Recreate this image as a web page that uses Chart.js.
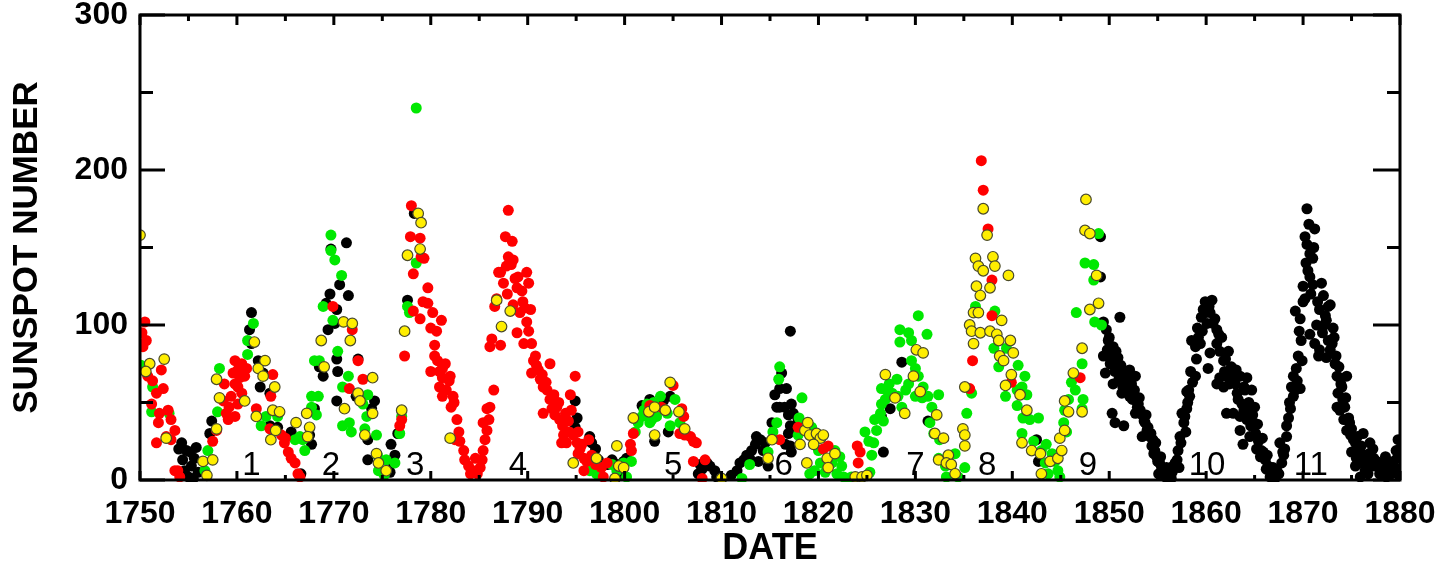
<!DOCTYPE html>
<html>
<head>
<meta charset="utf-8">
<script src="https://cdn.jsdelivr.net/npm/chart.js@4/dist/chart.umd.min.js"></script>
<style>
html,body{margin:0;padding:0;background:#fff;}
#wrap{width:1445px;height:567px;position:relative;}
</style>
</head>
<body>
<div id="wrap"><canvas id="c" width="1445" height="567"></canvas></div>
<script>
// ---- Axis ticks ----
const xTickLabels = [1750,1760,1770,1780,1790,1800,1810,1820,1830,1840,1850,1860,1870,1880];
const yTickLabels = [0,100,200,300];

// ---- Cycle labels ----
const cycleNames = ['1','2','3','4','5','6','7','8','9','10','11'];
const cycleYears = [1761.5,1769.7,1778.4,1789.0,1805.0,1816.4,1830.0,1837.4,1847.8,1860.1,1870.8];

// ---- Series (year, sunspot number) ----
const blackPts = [
[1754.3,24],[1754.8,19],[1754.4,13],[1755.3,9],[1755.0,2],[1755.6,14],[1755.8,21],[1754.6,6],[1755.5,1],[1754.0,20],[1755.2,18],[1756.0,5],
[1757.2,30],[1757.4,38],[1761.5,108],[1761.3,97],[1761.5,88],[1762.2,77],[1762.7,69],[1762.4,60],[1763.4,56],[1763.4,35],[1764.2,34],[1765.6,31],[1766.6,4],
[1767.5,29],[1767.7,23],[1768.0,46],[1768.5,73],[1768.9,67],[1769.4,97],[1769.6,120],[1769.2,114],[1769.7,149],[1770.6,126],[1770.3,110],[1771.3,153],[1771.5,119],[1770.3,78],[1770.4,70],[1770.3,51],[1770.1,101],[1772.5,78],[1772.3,54],[1774.2,51],[1773.9,46],[1773.5,26],
[1773.5,13],[1775.9,23],[1776.3,16],[1776.6,30],[1776.1,11],[1775.8,5],
[1777.6,116],[1778.3,172],
[1794.9,51],[1795.1,40],[1794.9,34],[1796.4,28],[1796.6,24],[1796.8,15],[1797.3,13],[1798.2,10],[1798.7,13],[1799.2,10],[1799.9,12],[1800.2,14],[1799.5,4],[1797.0,20],
[1801.8,48],[1802.6,52],[1803.1,25],[1804.5,31],[1804.7,54],[1804.0,51],[1807.8,10],[1808.5,11],[1808.8,9],[1809.3,6],[1807.6,4],[1809.5,2],[1808.0,7],
[1811.6,6],[1811.9,11],[1812.3,13],[1812.6,16],[1812.9,14],[1813.1,19],[1813.5,23],[1813.6,28],[1814.0,26],[1814.3,19],[1814.5,24],[1814.8,9],[1815.2,37],[1815.7,47],[1815.5,55],[1816.0,59],[1816.2,69],[1816.7,59],[1816.0,47],[1816.5,47],[1817.2,49],[1816.9,42],[1817.4,43],[1817.1,35],[1816.9,30],[1816.6,23],[1817.1,22],[1817.6,33],[1817.1,96],[1817.9,39],[1817.2,18],[1811.0,3],[1813.8,12],
[1826.5,41],[1827.4,46],[1826.7,18],[1828.6,76],[1831.3,38],
[1842.5,26],[1842.7,12],
[1849.1,157],[1849.1,131],
[1849.4,102],[1849.7,97],[1851.1,105],[1849.9,90],[1850.4,86],[1849.4,80],[1849.6,69],[1850.1,75],[1850.8,75],[1851.1,71],[1850.4,62],[1851.5,66],[1852.1,71],[1851.8,62],[1852.7,67],[1851.3,56],[1852.1,54],[1853.0,49],[1852.7,43],[1853.4,42],[1853.7,37],[1853.9,32],[1853.4,28],[1854.2,28],[1854.4,22],[1854.7,19],[1854.9,15],[1855.2,11],[1855.6,6],[1855.8,2],[1856.3,3],[1856.6,9],[1857.0,13],[1857.1,19],[1857.3,28],[1857.7,37],[1857.5,43],[1858.0,46],[1858.3,54],[1858.2,58],[1858.9,67],[1850.3,43],[1850.6,37],[1851.5,35],[1856.1,1],[1855.1,4],
[1849.8,84],[1850.2,80],[1850.6,70],[1851.0,65],[1851.4,60],[1851.9,57],[1852.4,52],[1852.9,47],[1853.2,45],[1853.6,38],[1854.0,34],[1854.5,26],[1854.8,24],[1855.3,15],[1855.4,8],[1856.0,4],[1856.5,5],[1856.8,11],[1852.3,62],[1851.7,70],[1850.9,79],
[1857.4,24],[1857.9,31],[1858.1,50],[1858.6,63],[1859.0,78],[1859.6,96],[1857.8,41],[1858.0,57],
[1858.5,90],[1858.9,86],[1859.2,92],[1859.5,105],[1859.9,115],[1860.6,116],[1859.9,108],[1860.4,108],[1860.1,101],[1860.7,101],[1861.1,97],[1859.4,88],[1860.4,82],[1860.2,72],[1861.1,88],[1861.4,83],[1861.8,77],[1862.3,83],[1862.6,73],[1862.1,67],[1861.4,66],[1861.1,62],[1861.8,60],[1862.8,66],[1863.5,67],[1864.2,66],[1863.2,56],[1864.0,58],[1863.7,49],[1864.7,58],[1865.0,47],[1862.1,43],[1862.8,43],[1863.5,41],[1864.2,39],[1864.9,37],[1863.5,32],[1864.5,28],[1863.8,23],[1865.2,20],[1865.7,19],[1865.6,15],[1866.1,13],[1866.4,9],[1866.8,4],[1867.1,1],[1867.5,4],[1867.8,11],[1868.0,16],[1867.6,24],[1868.3,28],[1868.3,35],[1868.7,46],[1869.0,54],[1868.8,60],[1869.2,58],[1869.0,67],[1869.7,59],[1869.5,80],[1869.9,77],
[1861.6,92],[1862.0,78],[1862.5,70],[1863.0,62],[1863.3,52],[1863.9,45],[1864.4,50],[1864.6,35],[1865.1,30],[1865.4,25],[1865.9,18],[1866.2,7],[1866.6,2],[1867.3,6],
[1869.2,109],[1869.7,104],[1870.0,115],[1870.4,175],[1870.2,157],[1870.4,152],[1871.2,162],[1870.7,146],[1871.0,143],[1870.5,135],[1870.7,131],[1871.0,126],[1872.1,119],[1871.7,110],[1872.3,106],[1872.8,113],[1872.4,103],[1873.1,98],[1872.6,90],[1870.7,94],[1871.2,88],[1871.7,84],[1872.8,84],[1871.6,80],[1872.4,79],[1873.3,75],[1873.5,67],[1873.8,66],[1874.5,67],[1874.0,60],[1873.6,56],[1873.5,47],[1873.8,45],[1874.3,47],[1874.2,39],[1874.5,32],[1875.0,33],[1874.9,29],[1876.2,30],[1875.4,24],[1875.0,18],[1875.5,14],[1876.1,11],[1876.6,13],[1876.9,24],[1877.2,20],[1876.7,4],[1877.4,9],[1877.9,4],[1878.3,11],[1878.6,2],[1879.1,4],[1879.5,8],[1879.6,19],[1875.4,9],[1875.9,2],
[1868.1,20],[1868.5,40],[1869.3,72],[1869.8,90],[1870.0,125],[1870.3,140],[1870.8,120],[1871.4,100],[1872.0,95],[1871.9,127],[1872.6,112],[1873.0,88],[1873.4,80],[1873.9,62],[1874.4,53],[1874.7,40],[1875.2,26],[1875.7,20],[1876.3,16],[1876.4,6],[1877.0,9],[1877.6,12],[1878.0,6],[1878.8,8],[1879.3,12],[1879.8,26],[1878.2,3],[1879.9,3],
[1850.0,92],[1850.7,83],[1851.2,74],[1852.0,66],[1852.6,58],[1853.1,53],[1853.8,42],[1854.3,30],[1854.6,17],[1855.0,12],[1855.9,8],[1856.4,1],[1857.2,8],[1858.4,70],[1859.1,98],[1859.7,110],[1860.3,112],[1860.9,104],[1861.3,94],[1861.9,70],[1862.4,62],[1863.1,71],[1863.9,60],[1864.3,44],[1864.8,42],[1865.3,36],[1865.8,27],[1866.3,16],[1866.9,8],[1867.9,18],[1868.6,50],[1869.4,64],[1869.6,96],[1870.2,117],[1870.6,165],[1871.1,150],[1871.5,115],[1872.2,100],[1873.2,92],[1873.7,73],[1874.1,52],[1874.8,37],[1875.6,28],[1876.0,22],[1876.8,17],[1877.3,14],[1877.8,9],[1878.5,15],[1879.0,10],[1879.7,14],[1880.0,20]
];

const redPts = [
[1750.5,102],[1750.65,90],[1750.3,86],[1750.8,67],[1751.3,64],[1752.2,71],[1751.7,56],[1752.4,59],[1751.2,49],[1752.0,43],[1752.9,45],[1753.2,39],[1751.9,37],[1751.7,24],[1752.7,28],[1753.6,32],[1753.2,26],[1753.9,6],[1754.1,2],[1753.6,6],[1750.2,95],
[1757.5,25],[1757.9,32],[1758.6,51],[1758.7,62],[1758.9,43],[1759.4,54],[1759.2,47],[1759.8,62],[1760.1,49],[1759.8,77],[1760.1,71],[1760.5,75],[1760.1,60],[1760.8,67],[1759.6,69],[1760.5,56],[1759.1,39],[1759.8,41],[1760.3,66],[1761.0,72],[1762.0,46],[1763.7,68],[1763.5,54],[1763.4,33],[1764.6,29],[1764.9,24],[1765.3,18],[1765.6,14],[1766.0,11],[1766.3,4],[1766.5,2],[1765.0,27],
[1769.9,112],[1771.9,97],[1772.5,77],[1773.0,65],[1771.6,59],
[1777.0,39],[1776.8,35],[1777.3,80],[1778.2,109],[1778.2,133],[1777.9,157],[1778.9,156],[1778.0,177],[1779.0,144],[1779.3,143],[1779.7,124],[1779.2,115],[1779.7,114],[1780.2,108],[1778.9,104],[1780.0,98],[1780.6,96],[1780.4,87],[1781.1,103],[1780.7,77],[1781.2,72],[1780.9,70],[1781.2,66],[1780.0,70],[1780.9,60],[1781.2,54],[1781.9,64],[1782.1,47],[1782.0,67],[1782.3,54],[1782.7,39],[1782.9,31],[1783.0,25],[1782.5,26],[1783.4,19],[1783.5,13],[1783.9,9],[1784.1,4],[1784.4,6],[1784.8,4],[1785.1,8],[1784.6,14],[1785.3,13],
[1781.6,58],[1782.4,50],[1781.5,75],[1780.4,80],
[1785.4,19],[1785.6,26],[1785.8,32],[1785.4,37],[1786.0,39],[1785.8,46],[1786.1,47],[1786.5,58],[1786.1,86],[1786.3,91],[1787.2,87],[1786.6,112],[1786.8,117],[1787.0,134],[1787.5,127],[1788.0,144],[1787.7,157],[1788.4,154],[1788.0,174],[1787.2,134],[1788.5,142],[1787.8,138],[1789.0,131],[1788.9,124],[1789.4,122],[1789.9,134],[1790.1,127],[1788.5,113],[1789.7,111],[1788.9,95],[1789.9,102],[1790.1,96],[1790.4,88],[1789.6,88],[1790.6,77],[1790.4,69],[1791.1,71],[1791.3,65],[1792.3,75],[1791.6,60],[1792.0,58],[1792.3,52],[1791.6,43],[1792.5,46],[1793.0,47],[1793.3,39],[1793.9,43],[1794.2,38],[1794.4,55],[1794.9,67],[1793.7,29],[1794.0,24],[1793.5,24],[1794.7,29],[1795.2,31],[1795.6,23],[1795.2,17],[1795.8,14],[1796.1,12],[1795.8,6],[1795.1,24],[1796.3,26],[1797.8,2],[1798.2,11],[1797.6,8],[1788.3,139],[1790.8,80],[1789.2,108],
[1790.9,74],[1791.5,68],[1791.9,63],[1792.7,55],[1793.2,50],[1792.8,42],[1793.6,35],[1794.3,31],[1794.5,45],[1795.4,20],[1796.6,16],[1797.0,10],[1787.9,120],[1788.7,130],[1789.5,115],[1790.3,110],
[1800.6,23],[1800.7,19],[1800.9,30],[1802.6,48],[1803.8,47],[1805.0,61],[1805.9,46],[1806.1,41],[1805.7,30],[1806.2,29],[1806.8,28],[1807.1,25],[1807.4,24],[1807.1,12],[1808.3,13],[1808.0,1],
[1816.0,26],[1817.9,34],[1820.5,20],[1821.0,22],
[1824.0,22],[1824.3,18],[1824.1,11],
[1835.6,59],[1835.9,77],[1836.8,206],[1837.0,187],[1837.5,162],[1837.9,129],[1837.9,106],[1839.9,63],
[1847.0,66]
];

const greenPts = [
[1750.1,74],[1751.2,44],[1751.3,60],[1753.0,43],
[1757.0,19],[1756.7,6],[1758.2,72],[1758.0,44],[1761.7,101],[1761.1,90],[1761.1,81],[1763.0,41],[1762.5,35],[1764.2,41],
[1766.0,26],[1766.8,26],[1767.0,19],[1766.5,28],[1767.7,54],[1768.0,77],[1768.5,77],[1768.4,54],[1767.7,47],[1768.2,42],[1769.7,158],[1770.1,142],[1769.7,148],[1768.9,112],[1769.9,103],[1770.8,132],[1770.4,83],[1771.5,67],[1770.9,60],[1770.9,35],[1771.6,37],[1771.8,31],[1773.0,49],[1773.5,55],[1773.2,33],[1774.4,29],[1773.4,41],
[1774.6,6],[1775.2,3],[1775.4,13],[1776.3,11],[1774.5,16],
[1776.8,30],[1777.0,41],[1777.6,112],[1777.8,108],[1778.5,140],[1778.5,240],
[1796.4,6],[1797.1,4],[1798.7,10],[1799.2,6],[1799.9,11],[1800.7,12],[1800.2,2],
[1801.1,31],[1801.4,37],[1801.8,41],[1802.3,49],[1802.8,39],[1802.6,37],[1803.7,54],[1804.0,46],[1804.7,35],[1805.2,52],[1804.4,43],[1803.3,41],[1805.7,37],[1802.0,45],[1803.0,50],
[1812.9,10],[1812.1,1],[1816.0,73],[1815.9,65],[1815.7,37],[1815.3,31],[1814.8,18],[1818.3,53],[1817.9,29],[1819.3,34],[1819.6,25],[1820.0,19],[1820.2,11],[1819.1,4],[1820.7,5],[1821.4,11],[1821.7,19],[1822.2,15],[1822.4,9],[1821.9,4],[1822.6,2],[1822.9,1],[1823.4,2],[1819.6,6],[1818.0,40],
[1824.8,31],[1825.2,25],[1825.5,16],[1825.3,5],[1825.7,24],[1826.0,32],[1825.8,39],[1826.4,43],[1826.5,49],[1826.7,38],[1826.9,52],[1826.5,59],[1827.0,58],[1827.6,56],[1828.1,65],[1828.2,54],[1828.6,47],[1828.4,97],[1828.4,89],[1829.3,95],[1829.6,90],[1830.3,106],[1831.2,94],[1829.6,77],[1830.0,72],[1830.3,67],[1829.3,62],[1830.0,54],[1830.8,60],[1830.7,53],[1831.3,54],[1831.7,47],[1832.4,55],[1831.5,37],[1831.9,30],[1832.5,26],[1832.4,14],[1833.1,9],[1833.2,2],[1834.1,17],[1834.4,2],[1835.1,8],[1835.3,43],[1835.8,56],[1827.3,62],[1829.0,58],
[1838.2,109],[1836.2,112],[1838.1,85],[1838.6,73],[1839.4,85],[1840.6,74],[1841.3,67],[1840.5,58],[1841.0,60],[1841.5,55],[1839.3,54],[1840.5,48],[1841.1,40],[1841.8,39],[1842.7,40],[1841.0,30],[1842.2,25],[1843.0,19],[1843.5,23],[1844.1,17],[1843.4,11],[1843.7,4],[1844.4,12],[1844.7,6],[1844.9,2],
[1845.3,37],[1845.6,31],[1845.4,45],[1845.8,52],[1846.1,63],[1846.5,58],[1846.6,108],[1847.5,140],[1847.2,46],[1848.9,159],[1848.4,139],[1848.4,129],[1848.5,102],[1847.2,75],[1847.3,52],[1849.2,100]
];

const yellowPts = [
[1750.0,158],[1751.0,75],[1752.5,78],[1752.7,27],[1750.6,70],
[1756.5,12],[1757.5,13],[1756.9,3],[1757.9,33],[1757.9,65],[1758.2,53],[1760.8,51],[1761.8,89],[1762.2,72],[1762.9,77],[1762.7,67],[1762.0,41],[1763.9,60],[1763.7,45],[1764.4,44],[1763.5,26],[1764.0,32],[1766.1,37],
[1767.2,43],[1767.5,34],[1767.3,28],[1768.7,90],[1769.0,73],[1771.0,102],[1771.9,101],[1771.7,90],[1772.5,56],[1772.7,51],[1774.0,66],[1771.1,46],[1774.0,43],[1773.2,29],[1774.4,17],[1774.6,11],[1775.4,6],
[1777.0,45],[1777.3,96],[1777.6,145],[1778.9,149],[1778.7,172],[1779.0,166],[1782.0,27],
[1786.8,116],[1788.2,109],[1787.3,99],[1794.7,11],[1797.1,14],[1799.2,22],[1799.4,9],[1799.9,8],[1799.0,1],
[1800.9,40],[1802.5,44],[1803.1,47],[1803.1,29],[1804.7,63],[1804.2,45],[1805.6,44],[1806.2,33],[1810.0,1],
[1815.2,26],[1814.8,14],[1818.6,32],[1819.1,29],[1818.9,37],[1819.8,30],[1820.2,27],[1820.5,29],[1819.5,23],[1818.1,23],[1818.8,11],[1820.9,14],[1821.0,8],[1821.7,17],[1823.8,2],[1824.5,2],[1825.0,3],
[1826.9,68],[1827.9,53],[1828.9,43],[1829.8,67],[1830.1,84],[1830.8,82],[1830.5,57],[1832.2,42],[1832.0,30],[1832.4,13],[1832.9,27],[1833.4,16],[1833.2,11],[1833.7,10],[1834.1,4],[1834.9,33],[1835.1,29],[1835.1,22],[1835.1,60],
[1837.0,175],[1837.4,158],[1836.2,143],[1836.5,138],[1837.0,135],[1838.0,144],[1838.2,138],[1839.6,132],[1836.3,125],[1836.7,119],[1837.7,124],[1836.0,108],[1836.5,108],[1835.6,100],[1835.8,96],[1836.7,95],[1836.0,88],[1837.7,96],[1838.4,94],[1838.9,103],[1838.6,90],[1839.8,90],[1840.1,82],[1838.7,80],[1839.1,77],[1839.9,68],[1839.3,61],[1840.8,55],[1841.0,24],[1842.0,19],[1842.9,17],[1843.0,4],[1843.9,12],[1844.7,14],[1845.1,19],[1844.9,27],[1845.4,32],[1841.5,45],
[1845.4,51],[1845.8,44],[1846.3,69],[1847.6,181],[1847.5,161],[1848.0,159],[1847.2,85],[1848.7,132],[1848.0,110],[1848.9,114],[1847.2,44]
];

const toXY = arr => arr.map(p => ({x: p[0], y: p[1]}));
const FONT = "'Liberation Sans', Arial, Helvetica, sans-serif";

const framePlugin = {
  id: 'frame',
  beforeDatasetsDraw(chart) {
    const {ctx, scales:{x, y}} = chart;
    ctx.save();
    ctx.fillStyle = '#000';
    ctx.font = 'normal 33px ' + FONT;
    ctx.textAlign = 'center';
    ctx.textBaseline = 'alphabetic';
    cycleNames.forEach((n, i) => {
      ctx.fillText(n, x.getPixelForValue(cycleYears[i]), y.getPixelForValue(0) - 5);
    });
    ctx.restore();
  },
  afterDraw(chart) {
    const {ctx, chartArea: a, scales:{x, y}} = chart;
    ctx.save();
    ctx.strokeStyle = '#000';
    ctx.lineCap = 'butt';
    ctx.lineWidth = 3;
    for (let v = 1750; v <= 1880; v += 5) {
      const px = x.getPixelForValue(v);
      const major = (v % 10 === 0);
      const lb = major ? 9 : 5, lt = major ? 10 : 6;
      ctx.beginPath();
      ctx.moveTo(px, a.bottom); ctx.lineTo(px, a.bottom - lb);
      ctx.moveTo(px, a.top); ctx.lineTo(px, a.top + lt);
      ctx.stroke();
    }
    for (let v = 0; v <= 300; v += 50) {
      const py = y.getPixelForValue(v);
      const major = (v % 100 === 0);
      const l = major ? 25 : 13, r = major ? 27 : 13;
      ctx.beginPath();
      ctx.moveTo(a.left, py); ctx.lineTo(a.left + l, py);
      ctx.moveTo(a.right, py); ctx.lineTo(a.right - r, py);
      ctx.stroke();
    }
    ctx.strokeRect(a.left, a.top, a.right - a.left, a.bottom - a.top);
    ctx.restore();
  }
};

new Chart(document.getElementById('c'), {
  type: 'scatter',
  data: {
    datasets: [
      {label:'yellow', data: toXY(yellowPts), backgroundColor:'#ffee00', borderColor:'#4a4a2a', borderWidth:1.2, pointRadius:5.3, order:1},
      {label:'red', data: toXY(redPts), backgroundColor:'#ff0000', borderWidth:0, pointRadius:5.5, order:2},
      {label:'green', data: toXY(greenPts), backgroundColor:'#00e800', borderWidth:0, pointRadius:5.5, order:3},
      {label:'black', data: toXY(blackPts), backgroundColor:'#000000', borderWidth:0, pointRadius:5.5, order:4}
    ]
  },
  options: {
    responsive: false,
    animation: false,
    devicePixelRatio: 1,
    clip: {left: 0, top: 6, right: 0, bottom: 2},
    layout: {padding: {top: 15, right: 45, left: 0, bottom: 0}},
    plugins: {legend: {display: false}, tooltip: {enabled: false}},
    elements: {point: {hoverRadius: 5}},
    scales: {
      x: {
        type: 'linear', min: 1750, max: 1880,
        afterFit(s) { s.height = 87; s.paddingLeft = 0; s.paddingRight = 0; },
        afterBuildTicks(s) { s.ticks = xTickLabels.map(v => ({value: v})); },
        grid: {display: false, drawTicks: false},
        border: {display: false},
        ticks: {autoSkip: false, maxRotation: 0, padding: 15, color: '#000', font: {family: FONT, size: 32, weight: 'bold'}, callback: v => String(v)},
        title: {display: true, text: 'DATE', color: '#000', padding: {top: 0, bottom: 0}, font: {family: FONT, size: 36, weight: 'bold', lineHeight: 1}}
      },
      y: {
        type: 'linear', min: 0, max: 300,
        afterFit(s) { s.width = 140; s.paddingTop = 0; s.paddingBottom = 0; },
        afterBuildTicks(s) { s.ticks = yTickLabels.map(v => ({value: v})); },
        grid: {display: false, drawTicks: false},
        border: {display: false},
        ticks: {padding: 12, color: '#000', font: {family: FONT, size: 32, weight: 'bold'}, callback: v => String(v)},
        title: {display: true, text: 'SUNSPOT NUMBER', color: '#000', padding: {top: 10, bottom: 0}, font: {family: FONT, size: 35, weight: 'bold', lineHeight: 1}}
      }
    }
  },
  plugins: [framePlugin]
});
</script>
</body>
</html>
